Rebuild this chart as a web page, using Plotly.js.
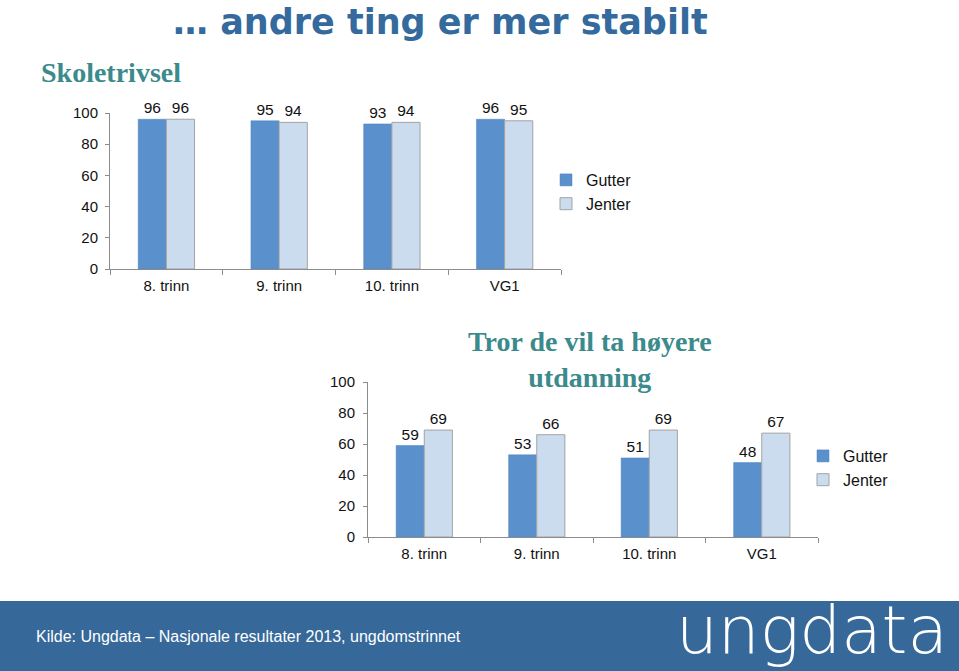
<!DOCTYPE html>
<html>
<head>
<meta charset="utf-8">
<script src="https://cdn.plot.ly/plotly-3.0.1.min.js"></script>
<style>
html,body{margin:0;padding:0;background:#fff;}
#chart{width:959px;height:671px;}
</style>
</head>
<body>
<div id="chart"></div>
<script>
// ---- Data ----
const categories = ['8. trinn', '9. trinn', '10. trinn', 'VG1'];
const trivselGutter = [96, 95, 93, 96];
const trivselJenter = [96, 94, 94, 95];
const utdanningGutter = [59, 53, 51, 48];
const utdanningJenter = [69, 66, 69, 67];
const seriesNames = ['Gutter', 'Jenter'];
const yTicks = [0, 20, 40, 60, 80, 100];

const mainTitle = '… andre ting er mer stabilt';
const title1 = 'Skoletrivsel';
const title2 = 'Tror de vil ta høyere<br>utdanning';
const sourceText = 'Kilde: Ungdata – Nasjonale resultater 2013, ungdomstrinnet';
const logoText = 'ungdata';

// ---- Styles ----
const W = 959, H = 671;
const cGutter = '#5A90CB';
const cJenter = '#CBDCEF';
const teal = '#3B8A8C';
const blue = '#346A9D';
const footerBlue = '#36699A';
const axisGrey = '#8C8C8C';
const sans = 'Liberation Sans, Arial, sans-serif';
const px = (v) => v / W;
const py = (v) => (H - v) / H;

function barTrace(name, yvals, color, xa, ya, leg, line) {
  return {
    type: 'bar', name: name, x: categories, y: yvals,
    xaxis: xa, yaxis: ya, legend: leg,
    marker: {color: color, line: line},
    texttemplate: '%{y}', textposition: 'outside', cliponaxis: false,
    textfont: {family: sans, size: 15.5, color: '#111'},
    hoverinfo: 'skip'
  };
}

const data = [
  barTrace(seriesNames[0], trivselGutter, cGutter, 'x', 'y', 'legend', {color: '#4F82BC', width: 0.5}),
  barTrace(seriesNames[1], trivselJenter, cJenter, 'x', 'y', 'legend', {color: '#A3A3A3', width: 1}),
  barTrace(seriesNames[0], utdanningGutter, cGutter, 'x2', 'y2', 'legend2', {color: '#4F82BC', width: 0.5}),
  barTrace(seriesNames[1], utdanningJenter, cJenter, 'x2', 'y2', 'legend2', {color: '#A3A3A3', width: 1})
];

function xAxis(domain, anchor) {
  return {
    domain: domain, anchor: anchor, type: 'category',
    showline: true, linecolor: axisGrey, linewidth: 1,
    ticks: 'outside', tickson: 'boundaries', ticklen: 5, tickcolor: axisGrey,
    tickfont: {family: sans, size: 15, color: '#111'},
    showgrid: false, zeroline: false, fixedrange: true, ticklabelstandoff: 3
  };
}
function yAxis(domain, anchor, standoff) {
  return {
    domain: domain, anchor: anchor, range: [0, 100],
    tickvals: yTicks, showline: true, linecolor: axisGrey, linewidth: 1,
    ticks: 'outside', ticklen: 4, tickcolor: axisGrey,
    tickfont: {family: sans, size: 15, color: '#111'},
    showgrid: false, zeroline: false, fixedrange: true, ticklabelstandoff: standoff
  };
}

const layout = {
  width: W, height: H,
  margin: {l: 0, r: 0, t: 0, b: 0},
  paper_bgcolor: '#fff', plot_bgcolor: 'rgba(0,0,0,0)',
  barmode: 'group', bargap: 0.5, bargroupgap: 0,
  showlegend: true,
  xaxis: xAxis([px(110), px(561)], 'y'),
  yaxis: yAxis([py(269), py(113)], 'x', 4),
  xaxis2: xAxis([px(368), px(818)], 'y2'),
  yaxis2: yAxis([py(537), py(382)], 'x2', 5),
  legend: {
    x: px(546), y: py(163), xanchor: 'left', yanchor: 'top',
    font: {family: sans, size: 16, color: '#111'},
    bgcolor: 'rgba(0,0,0,0)', itemwidth: 30, tracegroupgap: 0
  },
  legend2: {
    x: px(803), y: py(439), xanchor: 'left', yanchor: 'top',
    font: {family: sans, size: 16, color: '#111'},
    bgcolor: 'rgba(0,0,0,0)', itemwidth: 30, tracegroupgap: 0
  },
  shapes: [
    {type: 'rect', xref: 'paper', yref: 'paper', x0: 0, x1: 1, y0: 0, y1: py(601),
     fillcolor: footerBlue, line: {width: 0}, layer: 'below'}
  ],
  annotations: [
    {text: mainTitle, xref: 'paper', yref: 'paper', x: px(440), y: 1,
     xanchor: 'center', yanchor: 'top', showarrow: false,
     font: {family: 'DejaVu Sans, sans-serif', size: 35, color: blue, weight: 700}},
    {text: title1, xref: 'paper', yref: 'paper', x: px(39), y: py(72),
     xanchor: 'left', yanchor: 'middle', showarrow: false,
     font: {family: 'Liberation Serif, serif', size: 28, color: teal, weight: 700}},
    {text: title2, xref: 'paper', yref: 'paper', x: px(590), y: py(359),
     xanchor: 'center', yanchor: 'middle', showarrow: false, align: 'center',
     font: {family: 'Liberation Serif, serif', size: 28, color: teal, weight: 700}},
    {text: sourceText, xref: 'paper', yref: 'paper', x: px(34), y: py(636),
     xanchor: 'left', yanchor: 'middle', showarrow: false,
     font: {family: sans, size: 16, color: '#fff'}},
    {text: logoText, xref: 'paper', yref: 'paper', x: px(950), y: 0,
     xanchor: 'right', yanchor: 'bottom', showarrow: false,
     font: {family: 'DejaVu Sans, sans-serif', size: 66, color: '#fff', weight: 200}}
  ]
};

Plotly.newPlot('chart', data, layout, {displayModeBar: false, staticPlot: true});
</script>
</body>
</html>
